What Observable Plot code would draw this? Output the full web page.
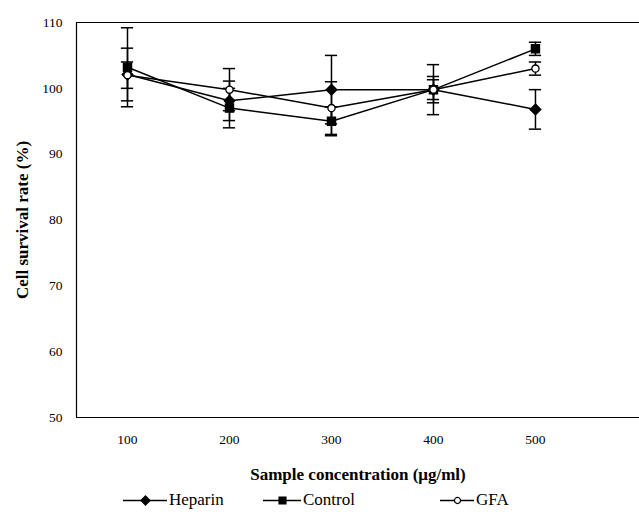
<!DOCTYPE html>
<html>
<head>
<meta charset="utf-8">
<script src="https://cdn.jsdelivr.net/npm/d3@7"></script>
<script src="https://cdn.jsdelivr.net/npm/@observablehq/plot@0.6"></script>
<style>
  html, body { margin: 0; padding: 0; background: #fff; }
  #wrap { width: 639px; height: 519px; position: relative; font-family: "Liberation Serif", "Times New Roman", serif; }
  #chart g[aria-label$="tick label"] { font-size: 13.5px !important; }
  #chart g[aria-label$="tick label"] text { font-size: 13.5px !important; }
  #legend { position: absolute; left: 0; top: 485px; width: 639px; height: 34px; }
  .item { position: absolute; top: 3px; display: flex; align-items: center; font-size: 17px; color: #000; font-family: "Liberation Serif", "Times New Roman", serif; }
  .item svg { display: block; }
</style>
</head>
<body>
<div id="wrap"><div id="chart"></div><div id="legend"></div></div>
<script>
const concentrations = [100, 200, 300, 400, 500];
const seriesNames = ["Heparin", "Control", "GFA"];
const heparin    = [102.1, 98.1, 99.8, 99.8, 96.8];
const heparinErr = [4.0, 3.0, 5.2, 2.0, 3.0];
const control    = [103.2, 97.0, 95.0, 99.8, 106.0];
const controlErr = [6.0, 3.0, 2.2, 1.5, 1.0];
const gfa        = [102.0, 99.8, 97.0, 99.8, 103.0];
const gfaErr     = [2.0, 3.2, 4.0, 3.8, 1.0];
const yTicks = [50, 60, 70, 80, 90, 100, 110];
const xTicks = [100, 200, 300, 400, 500];
const xTitle = "Sample concentration (μg/ml)";
const yTitle = "Cell survival rate (%)";

const symbols = {Heparin: "diamond2", Control: "square", GFA: "circle"};
const fills = {Heparin: "black", Control: "black", GFA: "white"};
const radii = {Heparin: 4.8, Control: 4.6, GFA: 3.6};

const valuesBy = {Heparin: [heparin, heparinErr], Control: [control, controlErr], GFA: [gfa, gfaErr]};
const rows = [];
for (const s of seriesNames) {
  const [v, e] = valuesBy[s];
  concentrations.forEach((c, i) => rows.push({series: s, x: c, y: v[i], err: e[i]}));
}
const cap = 6;

const marks = [
  Plot.ruleY([110], {stroke: "black", strokeWidth: 1.2}),
  Plot.ruleY([50], {stroke: "black", strokeWidth: 1.2}),
  Plot.ruleX([50], {stroke: "black", strokeWidth: 1.2}),
  Plot.axisY({ticks: yTicks, tickSize: 0, tickPadding: 14, fontSize: 13.5, label: null}),
  Plot.axisX({ticks: xTicks, tickSize: 0, tickPadding: 17, fontSize: 13.5, label: null}),
  Plot.text([yTitle], {frameAnchor: "left", textAnchor: "middle", dx: -54, rotate: -90, fontSize: 17, fontWeight: "bold"}),
  Plot.text([xTitle], {frameAnchor: "bottom", textAnchor: "middle", dy: 62, fontSize: 17, fontWeight: "bold"})
];
for (const s of seriesNames) {
  const d = rows.filter(r => r.series === s);
  marks.push(
    Plot.ruleX(d, {x: "x", y1: r => r.y - r.err, y2: r => r.y + r.err, stroke: "black", strokeWidth: 1.5}),
    Plot.ruleY(d, {y: r => r.y + r.err, x1: r => r.x - cap, x2: r => r.x + cap, stroke: "black", strokeWidth: 1.5}),
    Plot.ruleY(d, {y: r => r.y - r.err, x1: r => r.x - cap, x2: r => r.x + cap, stroke: "black", strokeWidth: 1.5})
  );
}
for (const s of seriesNames) {
  const d = rows.filter(r => r.series === s);
  marks.push(
    Plot.line(d, {x: "x", y: "y", stroke: "black", strokeWidth: 1.5}),
    Plot.dot(d, {x: "x", y: "y", symbol: () => symbols[s], r: radii[s], fill: fills[s], stroke: "black", strokeWidth: 1.3})
  );
}

const chart = Plot.plot({
  width: 639,
  height: 485,
  marginLeft: 76,
  marginRight: 0,
  marginTop: 22,
  marginBottom: 68,
  style: {fontFamily: "Liberation Serif, Times New Roman, serif", fontSize: "13.5px", color: "black", background: "white"},
  x: {type: "linear", domain: [50, 602]},
  y: {domain: [50, 110]},
  symbol: {type: "identity"},
  marks
});
document.getElementById("chart").appendChild(chart);

// Legend
const legend = document.getElementById("legend");
const legendPos = {Heparin: [123, 44], Control: [263, 38], GFA: [440, 34]};
for (const s of seriesNames) {
  const [left, w] = legendPos[s];
  const item = document.createElement("div");
  item.className = "item";
  item.style.left = left + "px";
  const sw = Plot.plot({
    width: w, height: 24, margin: 0,
    x: {domain: [0, 1], axis: null}, y: {domain: [0, 1], axis: null},
    symbol: {type: "identity"},
    marks: [
      Plot.ruleY([0.5], {stroke: "black", strokeWidth: 1.3}),
      Plot.dot([0.5], {x: d => d, y: 0.5, symbol: () => symbols[s], r: radii[s] * 0.85, fill: fills[s], stroke: "black", strokeWidth: 1.2})
    ]
  });
  item.appendChild(sw);
  const t = document.createElement("span");
  t.textContent = s;
  t.style.marginLeft = "2px";
  item.appendChild(t);
  legend.appendChild(item);
}
</script>
</body>
</html>
